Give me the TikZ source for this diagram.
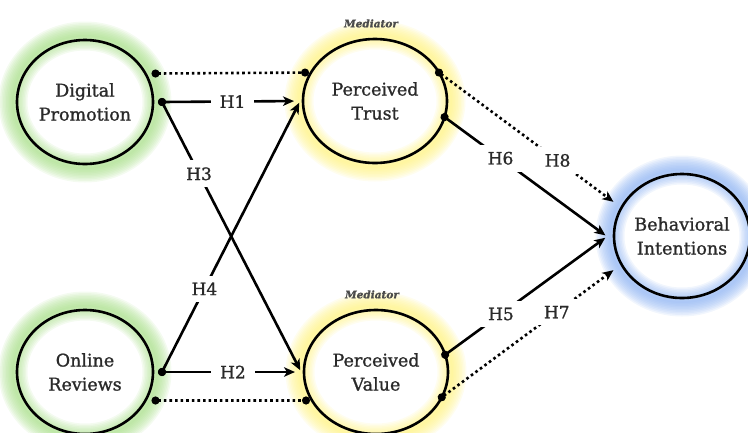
\documentclass[tikz,border=0pt]{standalone}
\usepackage{fontspec}
\setmainfont{DejaVu Serif}[FakeBold=1.2]
\newfontfamily\medfont{DejaVu Serif}[FakeBold=1.2]
\usetikzlibrary{arrows.meta, shapes.geometric, positioning, backgrounds}
\definecolor{glowgreen}{HTML}{A6DE86}
\definecolor{glowyellow}{HTML}{FFF27E}
\definecolor{glowblue}{HTML}{8CB2F2}
\definecolor{txt}{HTML}{2A2A2A}
\tikzset{
  construct/.style={ellipse, draw=black, line width=2.6pt, inner sep=0pt, outer sep=0pt,
    minimum width=136pt, minimum height=124pt, align=center, text=txt,
    font=\fontsize{17.5}{24}\selectfont},
  mediator/.style={text=black!70, font=\fontsize{10.5}{10.5}\selectfont\itshape\bfseries},
  hlabel/.style={fill=white, text=txt, inner xsep=9pt, inner ysep=7pt,
    font=\fontsize{17}{17}\selectfont},
  link/.style={line width=2.6pt, shorten <=-4pt,
    {Circle[length=8pt]}-{Stealth[length=11pt, width=9.5pt, inset=3pt]}},
  dotlink/.style={link, dash pattern=on 2.6pt off 3pt},
  pairlink/.style={line width=2.6pt, dash pattern=on 2.6pt off 3pt,
    shorten <=-4pt, shorten >=2pt, {Circle[length=8pt]}-{Circle[length=8pt]}}
}

\begin{document}
\begin{tikzpicture}[x=1pt, y=-1pt]
  \useasboundingbox (0,0) rectangle (748,432);
  \clip (0,0) rectangle (748,432);

  \node[construct, outer sep=9pt] (promo) at (85,102) {Digital\\Promotion};
  \node[construct, outer sep=9pt] (reviews) at (85,372) {Online\\Reviews};
  \node[construct, minimum width=144pt] (trust) at (375,101) {Perceived\\Trust};
  \node[construct, minimum width=144pt] (value) at (376,372) {Perceived\\Value};
  \node[construct] (intent) at (682,236) {Behavioral\\Intentions};
  \node[mediator, above=8pt of trust, xshift=-4pt] (medtrust) {Mediator};
  \node[mediator, above=8pt of value, xshift=-4pt] (medvalue) {Mediator};

  \begin{scope}[on background layer]
    \foreach \n/\col/\rx in {promo/glowgreen/68, reviews/glowgreen/68, trust/glowyellow/72,
                             value/glowyellow/72, intent/glowblue/68}
      \foreach \w in {2,5,...,29}
        \draw[\col, line width=\w pt, opacity=0.12] (\n.center) ellipse [x radius=\rx+4, y radius=66];
  \end{scope}

  \draw[pairlink] (promo.22) -- (trust.156);
  \draw[link, shorten >=9pt] (promo.east) -- node[hlabel] {H1} (trust.west);
  \draw[link, shorten >=9pt] (promo.east) -- node[hlabel, pos=0.26] {H3} (value.185);
  \draw[link, shorten >=9pt] (reviews.east) -- node[hlabel, pos=0.3] {H4} (trust.175);
  \draw[link, shorten >=9pt] (reviews.east) -- node[hlabel] {H2} (value.west);
  \draw[pairlink] (reviews.-22) -- (value.204);

  \draw[link, shorten >=11pt] (trust.-13) -- node[hlabel, pos=0.33] {H6} (intent.185);
  \draw[dotlink, shorten >=10pt] (trust.24) -- node[hlabel, pos=0.65] {H8} (intent.155);
  \draw[link, shorten >=11pt] (value.14) -- node[hlabel, pos=0.33] {H5} (intent.176);
  \draw[dotlink, shorten >=10pt] (value.-21) -- node[hlabel, pos=0.64] {H7} (intent.205);
\end{tikzpicture}
\end{document}
